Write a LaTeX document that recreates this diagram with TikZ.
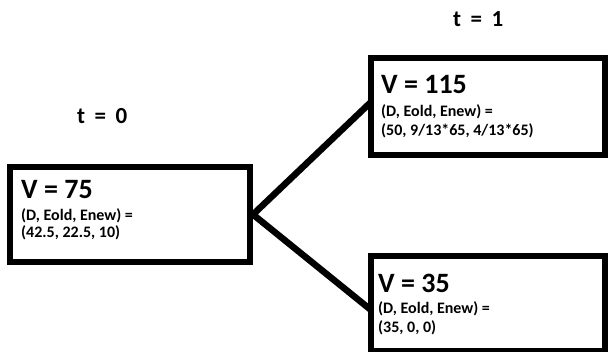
\documentclass[tikz,border=0pt]{standalone}
\usepackage{fontspec}
\setmainfont{Carlito}
\begin{document}
\begin{tikzpicture}[x=1pt,y=-1pt,
  statebox/.style={draw=black,line width=6pt,fill=white,inner sep=0pt,outer sep=0pt},
  bigline/.style={anchor=base west,inner sep=0pt,font=\fontsize{28}{33}\selectfont\bfseries},
  smallline/.style={anchor=base west,inner sep=0pt,font=\fontsize{16}{19}\selectfont\bfseries},
  steplabel/.style={anchor=base west,inner sep=0pt,font=\fontsize{23}{27}\selectfont\bfseries},
  edge/.style={draw=black,line width=6.5pt,line join=miter}]
  \useasboundingbox (0,0) rectangle (608,351);
  \fill[white] (0,0) rectangle (608,351);

  % time labels
  \node[steplabel] (t0) at (77,123) {t\hspace{9.5pt}=\hspace{9.5pt}0};
  \node[steplabel] (t1) at (453,26) {t\hspace{9.5pt}=\hspace{9.5pt}1};

  % states
  \node[statebox,minimum width=240pt,minimum height=95pt] (root) at (130,214.5) {};
  \node[statebox,minimum width=234pt,minimum height=97pt] (up) at (488,106.5) {};
  \node[statebox,minimum width=234pt,minimum height=95pt] (down) at (488,303.5) {};

  % branches meet on the outer edge of the root box
  \draw[edge] ([yshift=4.5pt]up.west) -- ([xshift=3pt]root.east) -- ([yshift=-6.5pt]down.west);

  % root contents
  \node[bigline] (v0) at (21,198) {V = 75};
  \node[smallline] (v0a) at (21,220) {(D, Eold, Enew) =};
  \node[smallline] (v0b) at (21,237) {(42.5, 22.5, 10)};

  % up-state contents
  \node[bigline] (v1) at (381,93) {V = 115};
  \node[smallline] (v1a) at (381,116) {(D, Eold, Enew) =};
  \node[smallline] (v1b) at (381,135) {(50, 9/13*65, 4/13*65)};

  % down-state contents
  \node[bigline] (v2) at (378,292) {V = 35};
  \node[smallline] (v2a) at (378,313) {(D, Eold, Enew) =};
  \node[smallline] (v2b) at (378,332) {(35, 0, 0)};
\end{tikzpicture}
\end{document}
